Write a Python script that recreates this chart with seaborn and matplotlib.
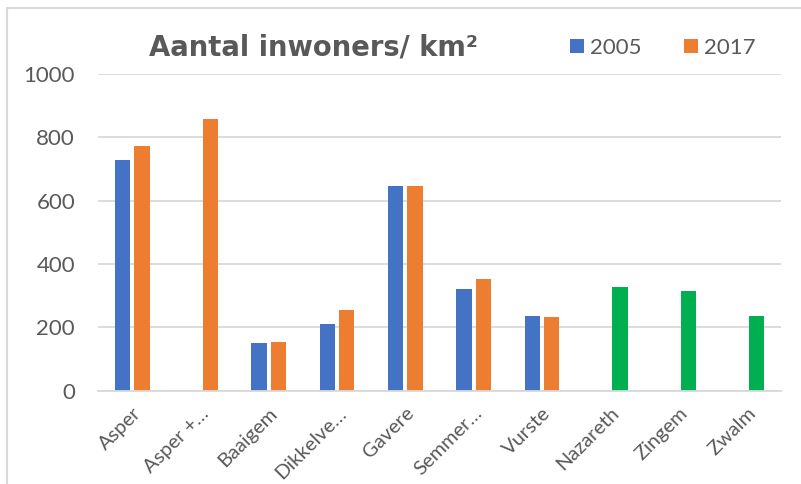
import matplotlib
matplotlib.use("Agg")
import matplotlib.pyplot as plt
from matplotlib.patches import Patch
from matplotlib.lines import Line2D
import seaborn as sns
import pandas as pd
import numpy as np

categories = ["Asper", "Asper +…", "Baaigem", "Dikkelve…", "Gavere",
              "Semmer…", "Vurste", "Nazareth", "Zingem", "Zwalm"]
values_2005 = [730, np.nan, 150, 210, 646, 321, 235, np.nan, np.nan, np.nan]
values_2017 = [773, 858, 154, 254, 645, 353, 233, 327, 315, 236]
green_categories = ["Nazareth", "Zingem", "Zwalm"]
years = ["2005", "2017"]
yticks = [0, 200, 400, 600, 800, 1000]

BLUE = "#4472C4"
ORANGE = "#ED7D31"
GREEN = "#00B050"
TXT = "#595959"
GRID = "#D9D9D9"

df = pd.DataFrame({
    "cat": categories * 2,
    "year": [years[0]] * len(categories) + [years[1]] * len(categories),
    "val": values_2005 + values_2017,
})

sns.set_style("white")
plt.rcParams["font.family"] = ["Lato", "DejaVu Sans"]

W, H = 801, 484
fig = plt.figure(figsize=(W / 100, H / 100), dpi=100)
ax = fig.add_axes([98 / W, (H - 390.7) / H, (781 - 98) / W, (390.7 - 74) / H])

sns.barplot(data=df, x="cat", y="val", hue="year", order=categories,
            hue_order=years, palette=[BLUE, ORANGE], width=0.572, gap=0.215,
            dodge=True, ax=ax, legend=False, linewidth=0, saturation=1)

green_idx = [categories.index(c) for c in green_categories]
for p in ax.patches:
    cx = p.get_x() + p.get_width() / 2
    k = int(round(cx))
    if k in green_idx and p.get_height() > 0:
        p.set_facecolor(GREEN)

ax.set_ylim(0, 1000)
ax.set_xlim(-0.5, len(categories) - 0.5)
ax.set_yticks(yticks)
ax.set_yticklabels([str(t) for t in yticks])
ax.yaxis.grid(True, color=GRID, linewidth=1.3)
ax.set_axisbelow(True)
for s in ["top", "right", "left"]:
    ax.spines[s].set_visible(False)
ax.spines["bottom"].set_color(GRID)
ax.spines["bottom"].set_linewidth(1.3)
ax.tick_params(axis="y", length=0, pad=16.5, labelsize=16, labelcolor=TXT)
ax.tick_params(axis="x", length=0, pad=10, labelsize=14.5, labelcolor=TXT)
ax.set_xticks(range(len(categories)))
ax.set_xticklabels(categories, rotation=45, ha="right", va="top",
                   rotation_mode="anchor")
ax.set_xlabel("")
ax.set_ylabel("")

fig.text(313 / W, 1 - 47 / H, "Aantal inwoners/ km²", ha="center", va="center",
         fontsize=19.8, fontweight="bold", color=TXT, family="DejaVu Sans")

handles = [Patch(facecolor=BLUE, edgecolor="none"),
           Patch(facecolor=ORANGE, edgecolor="none")]
fig.legend(handles, years, loc="center left", bbox_to_anchor=(570 / W, 1 - 48 / H),
           ncol=2, frameon=False, fontsize=16, labelcolor=TXT,
           handlelength=0.63, handleheight=0.63, handletextpad=0.25,
           columnspacing=1.95, borderpad=0, borderaxespad=0)

fig.add_artist(Line2D([6.5 / W, 6.5 / W], [0, 1 - 8 / H], transform=fig.transFigure,
                      color=GRID, linewidth=1.5))
fig.add_artist(Line2D([6.5 / W, 1], [1 - 8 / H, 1 - 8 / H], transform=fig.transFigure,
                      color=GRID, linewidth=1.5))

fig.savefig("out.png", dpi=100)
